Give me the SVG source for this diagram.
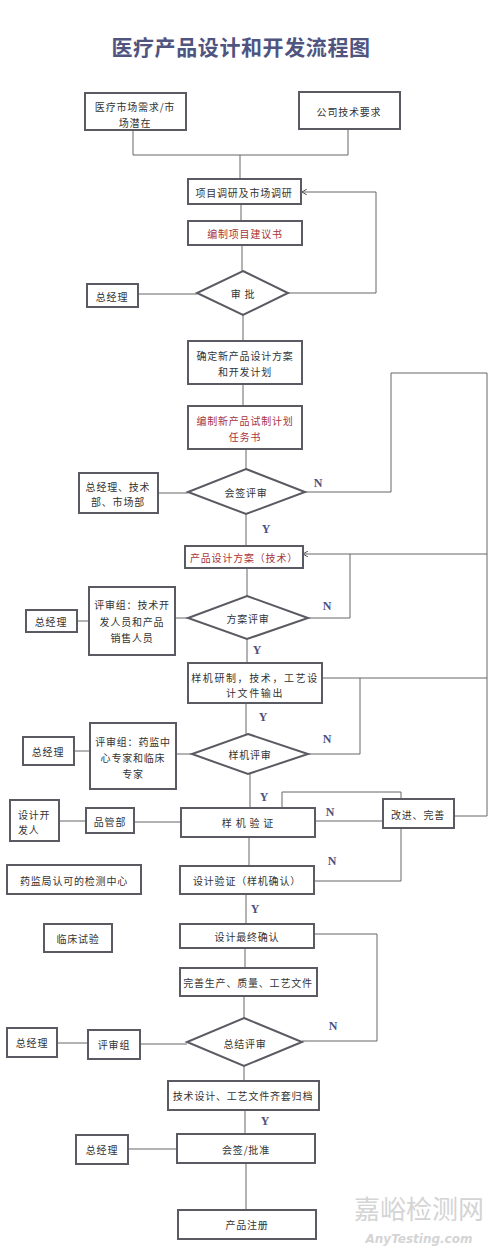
<svg xmlns="http://www.w3.org/2000/svg" width="500" height="1252" viewBox="0 0 500 1252">
<defs>
<marker id="ah" markerWidth="6" markerHeight="6" refX="5" refY="3" orient="auto" markerUnits="userSpaceOnUse">
<path d="M0,0 L5,3 L0,6" fill="none" stroke="#555" stroke-width="1"/>
</marker>
<style>
.b{fill:#fff;stroke:#5a5a62;stroke-width:2}
.t{font-family:"Noto Sans CJK SC","Noto Sans",sans-serif;font-size:10px;fill:#333;text-anchor:middle;dominant-baseline:central;letter-spacing:0.8px}
.r{fill:#a8343c}
.l{fill:none;stroke:#666;stroke-width:1}
.yn{font-family:"Liberation Serif",serif;font-weight:bold;font-size:12px;fill:#4d5180;text-anchor:middle;dominant-baseline:central}
.title{font-family:"Noto Sans CJK SC",sans-serif;font-weight:bold;font-size:21px;fill:#50557f;text-anchor:middle;letter-spacing:0.6px}
</style>
</defs>
<rect width="500" height="1252" fill="#fff"/>
<text class="title" x="241" y="55">医疗产品设计和开发流程图</text>

<g id="connectors">
<path class="l" d="M133 130V155M348 129V155M133 155H348M240 155V179"/>
<path class="l" d="M241 204V221"/>
<path class="l" d="M242 245V271"/>
<path class="l" d="M288 293H376V192H302" marker-end="url(#ah)"/>
<path class="l" d="M138 294H197"/>
<path class="l" d="M243 315V341"/>
<path class="l" d="M243 384V406"/>
<path class="l" d="M246 449V469"/>
<path class="l" d="M158 493H188"/>
<path class="l" d="M305 492H391V373H487V816H454"/>
<path class="l" d="M246 514V546"/>
<path class="l" d="M487 554H303" marker-end="url(#ah)"/>
<path class="l" d="M308 618H350V554"/>
<path class="l" d="M247 568V596"/>
<path class="l" d="M175 618H188M77 621H89"/>
<path class="l" d="M247 639V663"/>
<path class="l" d="M322 678H487M308 754H360V678"/>
<path class="l" d="M246 703V734"/>
<path class="l" d="M176 754H192M74 751H90"/>
<path class="l" d="M250 774V808"/>
<path class="l" d="M134 822H181M59 821H86"/>
<path class="l" d="M315 821H383"/>
<path class="l" d="M401 799V792H282V808"/>
<path class="l" d="M249 837V866"/>
<path class="l" d="M314 881H401V828"/>
<path class="l" d="M246 894V924"/>
<path class="l" d="M314 934H377V1041H302"/>
<path class="l" d="M245 948V968"/>
<path class="l" d="M244 996V1018"/>
<path class="l" d="M140 1044H187M57 1043H88"/>
<path class="l" d="M244 1066V1081"/>
<path class="l" d="M245 1110V1134"/>
<path class="l" d="M128 1149H177"/>
<path class="l" d="M246 1163V1210"/>
</g>

<g id="labels">
<text class="yn" x="318" y="483">N</text>
<text class="yn" x="327" y="606">N</text>
<text class="yn" x="327" y="739">N</text>
<text class="yn" x="330" y="812">N</text>
<text class="yn" x="332" y="861">N</text>
<text class="yn" x="333" y="1026">N</text>
<text class="yn" x="266" y="529">Y</text>
<text class="yn" x="257" y="650">Y</text>
<text class="yn" x="263" y="717">Y</text>
<text class="yn" x="264" y="797">Y</text>
<text class="yn" x="255" y="909">Y</text>
<text class="yn" x="265" y="1121">Y</text>
</g>

<g id="n1"><rect class="b" x="85" y="93" width="101" height="37"/><text class="t" x="135" y="106">医疗市场需求/市</text><text class="t" x="135" y="122">场潜在</text></g>
<g id="n2"><rect class="b" x="299" y="92" width="101" height="37"/><text class="t" x="349" y="111">公司技术要求</text></g>
<g id="n3"><rect class="b" x="188" y="179" width="113" height="25"/><text class="t" x="244" y="192">项目调研及市场调研</text></g>
<g id="n4"><rect class="b" x="188" y="221" width="114" height="24"/><text class="t r" x="245" y="233">编制项目建议书</text></g>
<g id="d1"><polygon class="b" points="243,271 288,293 243,315 197,293"/><text class="t" x="243" y="293">审  批</text></g>
<g id="m1"><rect class="b" x="87" y="284" width="51" height="23"/><text class="t" x="112" y="296">总经理</text></g>
<g id="n5"><rect class="b" x="188" y="341" width="114" height="43"/><text class="t" x="245" y="355">确定新产品设计方案</text><text class="t" x="245" y="371">和开发计划</text></g>
<g id="n6"><rect class="b" x="188" y="406" width="114" height="43"/><text class="t r" x="245" y="420">编制新产品试制计划</text><text class="t r" x="245" y="436">任务书</text></g>
<g id="d2"><polygon class="b" points="246,469 305,492 246,514 188,492"/><text class="t" x="246" y="492">会签评审</text></g>
<g id="m2"><rect class="b" x="79" y="473" width="79" height="40"/><text class="t" x="118" y="486">总经理、技术</text><text class="t" x="118" y="501">部、市场部</text></g>
<g id="n7"><rect class="b" x="185" y="546" width="118" height="22"/><text class="t r" x="244" y="557">产品设计方案（技术）</text></g>
<g id="d3"><polygon class="b" points="247,596 308,618 247,639 188,618"/><text class="t" x="248" y="618">方案评审</text></g>
<g id="m3"><rect class="b" x="89" y="587" width="86" height="68"/><text class="t" x="132" y="604">评审组：技术开</text><text class="t" x="132" y="621">发人员和产品</text><text class="t" x="132" y="637">销售人员</text></g>
<g id="m4"><rect class="b" x="26" y="610" width="51" height="22"/><text class="t" x="51" y="621">总经理</text></g>
<g id="n8"><rect class="b" x="188" y="663" width="134" height="40"/><text class="t" x="255" y="677" style="letter-spacing:1.6px">样机研制，技术，工艺设</text><text class="t" x="255" y="692" style="letter-spacing:1.6px">计文件输出</text></g>
<g id="d4"><polygon class="b" points="248,734 308,754 248,774 192,754"/><text class="t" x="250" y="754">样机评审</text></g>
<g id="m5"><rect class="b" x="90" y="723" width="86" height="66"/><text class="t" x="133" y="741">评审组：药监中</text><text class="t" x="133" y="757">心专家和临床</text><text class="t" x="133" y="773">专家</text></g>
<g id="m6"><rect class="b" x="23" y="737" width="51" height="28"/><text class="t" x="48" y="751">总经理</text></g>
<g id="n9"><rect class="b" x="181" y="808" width="134" height="29"/><text class="t" x="248" y="822">样  机  验  证</text></g>
<g id="m7"><rect class="b" x="86" y="808" width="48" height="25"/><text class="t" x="110" y="821">品管部</text></g>
<g id="m8"><rect class="b" x="10" y="800" width="49" height="41"/><text class="t" x="18" y="814" style="text-anchor:start">设计开</text><text class="t" x="18" y="829" style="text-anchor:start">发人</text></g>
<g id="n10"><rect class="b" x="383" y="799" width="71" height="29"/><text class="t" x="418" y="814">改进、完善</text></g>
<g id="n11"><rect class="b" x="180" y="866" width="134" height="28"/><text class="t" x="247" y="880">设计验证（样机确认）</text></g>
<g id="m9"><rect class="b" x="7" y="865" width="134" height="29"/><text class="t" x="74" y="880">药监局认可的检测中心</text></g>
<g id="n12"><rect class="b" x="180" y="924" width="134" height="24"/><text class="t" x="247" y="936">设计最终确认</text></g>
<g id="m10"><rect class="b" x="44" y="924" width="68" height="28"/><text class="t" x="78" y="938">临床试验</text></g>
<g id="n13"><rect class="b" x="180" y="968" width="137" height="28"/><text class="t" x="248" y="982">完善生产、质量、工艺文件</text></g>
<g id="d5"><polygon class="b" points="244,1018 302,1042 244,1066 187,1042"/><text class="t" x="245" y="1043">总结评审</text></g>
<g id="m11"><rect class="b" x="88" y="1030" width="52" height="29"/><text class="t" x="114" y="1044">评审组</text></g>
<g id="m12"><rect class="b" x="7" y="1028" width="50" height="29"/><text class="t" x="32" y="1042">总经理</text></g>
<g id="n14"><rect class="b" x="168" y="1081" width="151" height="29"/><text class="t" x="243" y="1095">技术设计、工艺文件齐套归档</text></g>
<g id="n15"><rect class="b" x="177" y="1134" width="138" height="29"/><text class="t" x="246" y="1149">会签/批准</text></g>
<g id="m13"><rect class="b" x="76" y="1135" width="52" height="29"/><text class="t" x="102" y="1149">总经理</text></g>
<g id="n16"><rect class="b" x="178" y="1210" width="138" height="29"/><text class="t" x="247" y="1224">产品注册</text></g>

<g id="watermark">
<text x="419" y="1219" style="font-family:'Noto Sans CJK SC',sans-serif;font-size:26px;fill:#d4d4d4;text-anchor:middle">嘉峪检测网</text>
<text x="419" y="1243" style="font-family:'DejaVu Sans',sans-serif;font-style:italic;font-weight:bold;font-size:12px;fill:#d4d4d4;text-anchor:middle">AnyTesting.com</text>
</g>
</svg>
